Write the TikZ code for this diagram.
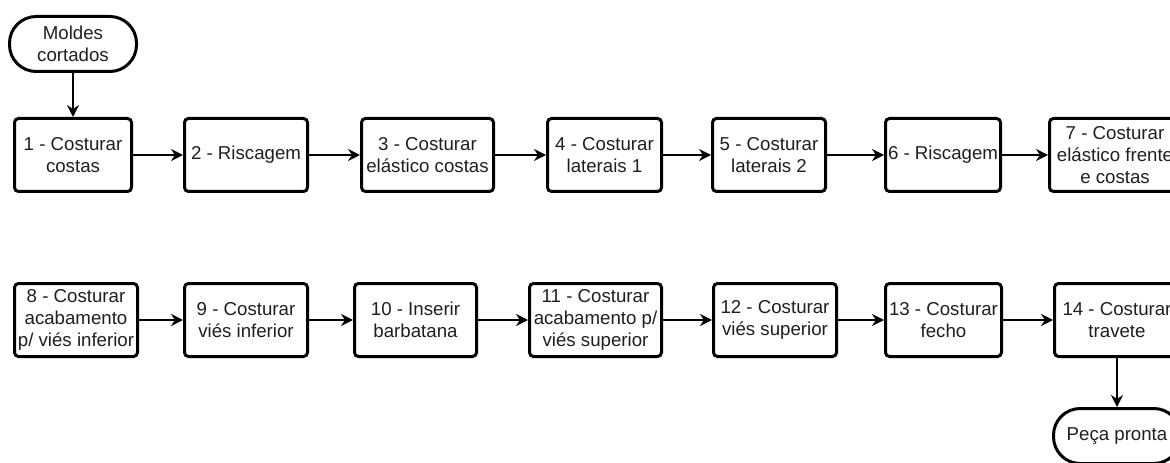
\documentclass[tikz,border=0pt]{standalone}
\usepackage{fontspec}
\setmainfont{Liberation Sans}
\usetikzlibrary{arrows.meta}

\tikzset{
  stepbox/.style={draw=black, line width=2.25pt, rounded corners=3pt,
    fill=white, minimum height=54.75pt, inner sep=0pt, align=center,
    font=\fontsize{14pt}{16.2pt}\selectfont, text=black!88},
  endcap/.style={draw=black, line width=2.25pt, rounded corners=20pt,
    fill=white, minimum width=95.25pt, minimum height=41.25pt,
    inner sep=0pt, align=center,
    font=\fontsize{14pt}{16.2pt}\selectfont, text=black!88},
  flow/.style={draw=black, line width=1.5pt,
    -{Stealth[length=9pt, width=9pt, inset=3pt]}}
}

\begin{document}
\begin{tikzpicture}[x=0.75pt, y=-0.75pt]
  \clip (0,0) rectangle (1170,463);
  \fill[white] (0,0) rectangle (1170,463);

  % start terminal
  \node[endcap] (start) at (73,44) {Moldes\\cortados};

  % first row of operations
  \node[stepbox, minimum width=87.75pt] (s1) at (73,155)    {1 - Costurar\\costas};
  \node[stepbox, minimum width=92.25pt] (s2) at (246,155)   {2 - Riscagem};
  \node[stepbox, minimum width=99pt]    (s3) at (427.5,155) {3 - Costurar\\elástico costas};
  \node[stepbox, minimum width=85.5pt]  (s4) at (604.5,155) {4 - Costurar\\laterais 1};
  \node[stepbox, minimum width=84.75pt] (s5) at (769,155)   {5 - Costurar\\laterais 2};
  \node[stepbox, minimum width=86.25pt] (s6) at (943,155)   {6 - Riscagem};
  \node[stepbox, minimum width=98.25pt] (s7) at (1115,155)  {7 - Costurar\\elástico frente\\e costas};

  % second row of operations
  \node[stepbox, minimum width=92.25pt] (s8)  at (76,320)    {8 - Costurar\\acabamento\\p/ viés inferior};
  \node[stepbox, minimum width=92.25pt] (s9)  at (246,320)   {9 - Costurar\\viés inferior};
  \node[stepbox, minimum width=91.5pt]  (s10) at (415.5,320) {10 - Inserir\\barbatana};
  \node[stepbox, minimum width=99pt]    (s11) at (595.5,320) {11 - Costurar\\acabamento p/\\viés superior};
  \node[stepbox, minimum width=92.25pt] (s12) at (775,320)   {12 - Costurar\\viés superior};
  \node[stepbox, minimum width=87pt]    (s13) at (943.5,320) {13 - Costurar\\fecho};
  \node[stepbox, minimum width=93.75pt] (s14) at (1117,320)  {14 - Costurar\\travete};

  % end terminal
  \node[endcap] (done) at (1117,436) {Peça pronta};

  % connectors
  \draw[flow] (start) -- (s1);
  \draw[flow] (s1) -- (s2);
  \draw[flow] (s2) -- (s3);
  \draw[flow] (s3) -- (s4);
  \draw[flow] (s4) -- (s5);
  \draw[flow] (s5) -- (s6);
  \draw[flow] (s6) -- (s7);
  \draw[flow] (s8) -- (s9);
  \draw[flow] (s9) -- (s10);
  \draw[flow] (s10) -- (s11);
  \draw[flow] (s11) -- (s12);
  \draw[flow] (s12) -- (s13);
  \draw[flow] (s13) -- (s14);
  \draw[flow] (s14) -- (done);
\end{tikzpicture}
\end{document}
